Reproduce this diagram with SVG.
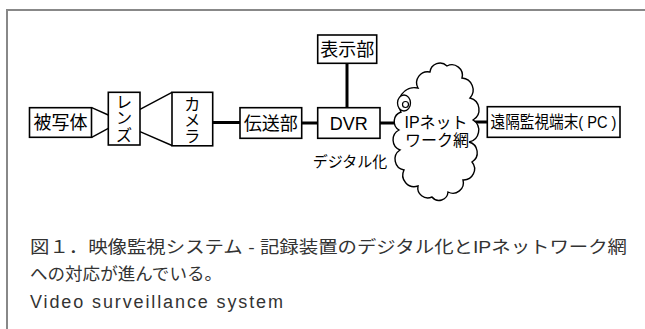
<svg xmlns="http://www.w3.org/2000/svg" width="645" height="329" viewBox="0 0 645 329">
<style>
.box{fill:#fff;stroke:#000;stroke-width:1.6}
.lbl{font-family:"Liberation Sans","Noto Sans CJK JP",sans-serif;font-size:18px;fill:#000;text-anchor:middle}
.vl{font-family:"Liberation Sans","Noto Sans CJK JP",sans-serif;font-size:16px;fill:#000;text-anchor:middle}
.con{stroke:#000;stroke-width:3;fill:none}
.cap{font-family:"Liberation Sans","Noto Sans CJK JP",sans-serif;fill:#333}
</style>
<rect x="0" y="0" width="645" height="329" fill="#fff"/>
<path d="M7 329 V10 H645" fill="none" stroke="#888" stroke-width="2"/>
<g id="connectors">
<line class="con" x1="212" y1="122.5" x2="240" y2="122.5"/>
<line class="con" x1="301" y1="123" x2="318" y2="123"/>
<line class="con" x1="347" y1="63" x2="347" y2="108"/>
<line class="con" x1="380" y1="123" x2="402" y2="123"/>
<line class="con" x1="468" y1="122" x2="488" y2="122"/>
<path d="M91.7 107.7 L108.3 115 M91.7 137.3 L108.3 128.3" stroke="#000" stroke-width="1.4" fill="none"/>
<path d="M140 109.3 L172 92.3 M140 131.7 L172 145.5" stroke="#000" stroke-width="1.4" fill="none"/>
</g>
<g id="subject">
<rect class="box" x="29.5" y="107.7" width="62" height="29.6"/>
<text class="lbl" x="60.5" y="129">被写体</text>
</g>
<g id="lens">
<rect class="box" x="108.3" y="92.3" width="31.7" height="52.7"/>
<text class="vl" x="124" y="108">レ</text>
<text class="vl" x="124" y="124">ン</text>
<text class="vl" x="124" y="141">ズ</text>
</g>
<g id="camera">
<rect class="box" x="172" y="92.3" width="40.7" height="53.5"/>
<text class="vl" x="192.3" y="110">カ</text>
<text class="vl" x="192.3" y="126">メ</text>
<text class="vl" x="192.3" y="142">ラ</text>
</g>
<g id="transmit">
<rect class="box" x="240" y="107.7" width="61.7" height="30.6"/>
<text class="lbl" x="270.8" y="129.5">伝送部</text>
</g>
<g id="display">
<rect class="box" x="317.7" y="35" width="59" height="28.3"/>
<text class="lbl" x="347.2" y="55.5">表示部</text>
</g>
<g id="dvr">
<rect class="box" x="317.7" y="107.7" width="62.3" height="30.6"/>
<text class="lbl" x="348.8" y="129.5">DVR</text>
<text class="lbl" x="350" y="167" style="font-size:15px">デジタル化</text>
</g>
<g id="network">
<path d="M418 88 A11 11 0 0 1 430 72 A10 10 0 0 1 447 66 A10.5 10.5 0 0 1 462 78 A12 12 0 0 1 470 98 A12 12 0 0 1 473 120 A12 12 0 0 1 469 142 A11 11 0 0 1 472 162 A11 11 0 0 1 463 180 A10.5 10.5 0 0 1 448 192 A9 9 0 0 1 432 197 A10 10 0 0 1 418 186 A11.5 11.5 0 0 1 404 170 A11 11 0 0 1 400 150 A11 11 0 0 1 399 130 A10 10 0 0 1 401 112 A16 16 0 0 1 418 88 Z" fill="#fff" stroke="#000" stroke-width="1.4"/>
<ellipse cx="404" cy="103" rx="6.5" ry="8" fill="#fff" stroke="#000" stroke-width="1.3"/>
<circle cx="405.5" cy="104.5" r="3" fill="none" stroke="#000" stroke-width="1.2"/>
<text class="lbl" x="436" y="128" style="font-size:16px">IPネット</text>
<text class="lbl" x="437" y="146" style="font-size:16px">ワーク網</text>
</g>
<g id="remote">
<rect class="box" x="487.3" y="106.7" width="132.7" height="30.6"/>
<text class="lbl" x="553.5" y="128" style="font-size:17px" textLength="126" lengthAdjust="spacingAndGlyphs">遠隔監視端末( PC )</text>
</g>
<g id="caption">
<text class="cap" x="30" y="253" style="font-size:17px" textLength="597" lengthAdjust="spacingAndGlyphs">図１．映像監視システム&#160;-&#160;記録装置のデジタル化とIPネットワーク網</text>
<text class="cap" x="30" y="280" style="font-size:17px" textLength="192" lengthAdjust="spacingAndGlyphs">への対応が進んでいる。</text>
<text class="cap" x="30" y="308" style="font-size:18px" textLength="253" lengthAdjust="spacing">Video surveillance system</text>
</g>
</svg>
